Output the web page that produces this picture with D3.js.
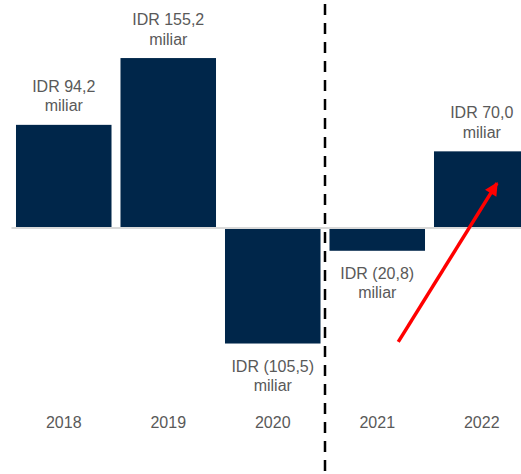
<!DOCTYPE html>
<html lang="id">

<head>
    <meta charset="UTF-8">
    <title>Laba bersih</title>
    <style>
        body {
            margin: 0;
            background: #fff;
        }

        text {
            font-family: "Liberation Sans", Arial, sans-serif;
            font-size: 16px;
            fill: #595959;
        }
    </style>
    <script src="https://cdn.jsdelivr.net/npm/d3@7/dist/d3.min.js"></script>
</head>

<body>
    <svg width="521" height="474"></svg>
</body>

</html>
<script>
    // values in IDR miliar
    var years = ["2018", "2019", "2020", "2021", "2022"];
    var values = [94.2, 155.2, -105.5, -20.8, 70.0];
    var labels = ["IDR 94,2", "IDR 155,2", "IDR (105,5)", "IDR (20,8)", "IDR 70,0"];
    var unit = "miliar";
    // arrow annotation: [year, position inside band, value]
    var arrowFrom = ["2021", 0.72, -104];
    var arrowTo = ["2022", 0.66, 41];

    var svg = d3.select("svg"),
        width = +svg.attr("width"),
        height = +svg.attr("height");

    var x = d3.scaleBand()
        .domain(years)
        .range([11.5, 534])
        .paddingInner(0.086)
        .paddingOuter(0.043);

    var k = 1.095;
    var y = d3.scaleLinear()
        .domain([-120, 170])
        .range([228 + 120 * k, 228 - 170 * k]);

    // bars
    svg.append("g")
        .selectAll("rect")
        .data(values)
        .enter()
        .append("rect")
        .attr("x", function (d, i) { return x(years[i]); })
        .attr("width", x.bandwidth())
        .attr("y", function (d) { return y(Math.max(0, d)); })
        .attr("height", function (d) { return Math.abs(y(d) - y(0)); })
        .attr("fill", "#00264a");

    // zero line
    svg.append("line")
        .attr("x1", x.range()[0])
        .attr("x2", width)
        .attr("y1", y(0))
        .attr("y2", y(0))
        .attr("stroke", "#d9d9d9")
        .attr("stroke-width", 2);

    // dashed separator between 2020 and 2021
    var sepX = x("2021") - x.step() * x.paddingInner() / 2;
    svg.append("line")
        .attr("x1", sepX)
        .attr("x2", sepX)
        .attr("y1", 4)
        .attr("y2", height)
        .attr("stroke", "#000")
        .attr("stroke-width", 2.5)
        .attr("stroke-dasharray", "11,8");

    // value labels
    var lab = svg.append("g")
        .selectAll("text")
        .data(values)
        .enter()
        .append("text")
        .attr("text-anchor", "middle")
        .attr("x", function (d, i) { return x(years[i]) + x.bandwidth() / 2; })
        .attr("y", function (d) { return d >= 0 ? y(d) - 33 : y(d) + 28; });
    lab.append("tspan")
        .text(function (d, i) { return labels[i]; });
    lab.append("tspan")
        .attr("x", function (d, i) { return x(years[i]) + x.bandwidth() / 2; })
        .attr("dy", 19.5)
        .text(unit);

    // year labels
    svg.append("g")
        .selectAll("text")
        .data(years)
        .enter()
        .append("text")
        .attr("text-anchor", "middle")
        .attr("x", function (d) { return x(d) + x.bandwidth() / 2; })
        .attr("y", 428)
        .text(function (d) { return d; });

    // red arrow
    svg.append("defs").append("marker")
        .attr("id", "head")
        .attr("viewBox", "0 0 10 10")
        .attr("refX", 9)
        .attr("refY", 5)
        .attr("markerWidth", 4.6)
        .attr("markerHeight", 3.8)
        .attr("markerUnits", "strokeWidth")
        .attr("orient", "auto")
        .append("path")
        .attr("d", "M0,0L10,5L0,10Z")
        .attr("fill", "#ff0000");

    function px(p) { return x(p[0]) + x.bandwidth() * p[1]; }
    svg.append("line")
        .attr("x1", px(arrowFrom))
        .attr("y1", y(arrowFrom[2]))
        .attr("x2", px(arrowTo))
        .attr("y2", y(arrowTo[2]))
        .attr("stroke", "#ff0000")
        .attr("stroke-width", 3.5)
        .attr("marker-end", "url(#head)");
</script>
